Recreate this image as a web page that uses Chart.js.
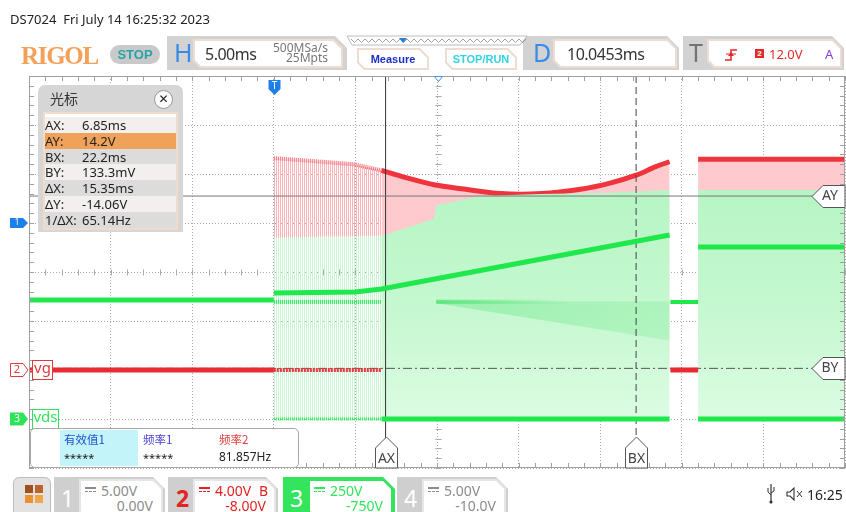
<!DOCTYPE html>
<html>
<head>
<meta charset="utf-8">
<title>DS7024</title>
<script src="https://cdn.jsdelivr.net/npm/chart.js@4.4.1/dist/chart.umd.min.js"></script>
<style>
body { margin: 0; background: #fff; }
#scr { position: relative; width: 846px; height: 512px; overflow: hidden; font-family: 'Noto Sans', 'Open Sans', sans-serif; color: #333; }
#scope { position: absolute; left: 0; top: 0; }
.a { position: absolute; white-space: pre; line-height: 1; }
.tab { position: absolute; background: #d2d2d2; clip-path: polygon(0 0, calc(100% - 12px) 0, 100% 12px, 100% 100%, 0 100%); }
.box { position: absolute; background: #ecdcd2; clip-path: polygon(0 0, calc(100% - 9px) 0, 100% 9px, 100% 100%, 7px 100%, 0 calc(100% - 7px)); }
.box::before { content: ''; position: absolute; left: 2px; top: 2px; right: 2px; bottom: 2px; background: #fff; clip-path: polygon(0 0, calc(100% - 8px) 0, 100% 8px, 100% 100%, 6px 100%, 0 calc(100% - 6px)); }
.big { font-size: 25px; color: #3a8ae8; }
.val { font-size: 16px; color: #333; letter-spacing: -0.5px; }
.btn { font-family: 'Liberation Sans', sans-serif; font-weight: bold; font-size: 11px; }
.dc { display: inline-block; width: 11px; height: 2px; border-top: 2px solid currentColor; border-bottom: 1px dashed currentColor; vertical-align: 4px; margin-right: 5px; }
.row { position: absolute; left: 0; width: 131px; height: 15.8px; }
.ct { font-size: 14px; }
</style>
</head>
<body>
<div id="scr">
<canvas id="scope" width="846" height="512"></canvas>

<!-- header -->
<div class="a" style="left:10px;top:12.5px;font-size:13px;color:#222">DS7024  Fri July 14 16:25:32 2023</div>
<div class="a" style="left:21px;top:41.5px;font:bold 25px 'Liberation Serif',serif;color:#f5a058;letter-spacing:-1.3px">RIGOL</div>
<div class="a" style="left:110px;top:45px;width:50px;height:19px;border-radius:10px;background:#c9c9c9"></div>
<div class="a btn" style="left:110px;top:47.5px;width:50px;text-align:center;font-size:13px;color:#2aa3a8">STOP</div>

<div class="tab" style="left:167px;top:36px;width:180px;height:34px">
  <div class="a big" style="left:7px;top:4px">H</div>
  <div class="box" style="left:26px;top:3px;width:150px;height:29px">
    <div class="a val" style="left:12px;top:7px">5.00ms</div>
    <div class="a" style="right:15px;top:2.5px;font-size:12px;color:#777">500MSa/s</div>
    <div class="a" style="right:15px;top:13px;font-size:12px;color:#777">25Mpts</div>
  </div>
</div>
<div class="box" style="left:357px;top:48px;width:72px;height:22px">
  <div class="a btn" style="left:0;width:72px;top:6px;text-align:center;color:#1c2fc0">Measure</div>
</div>
<div class="box" style="left:445px;top:48px;width:72px;height:22px">
  <div class="a btn" style="left:0;width:72px;top:6px;text-align:center;color:#33d3e3">STOP/RUN</div>
</div>
<div class="tab" style="left:523px;top:36px;width:156px;height:34px">
  <div class="a big" style="left:10px;top:4px">D</div>
  <div class="box" style="left:30px;top:3px;width:124px;height:29px">
    <div class="a val" style="left:14px;top:7px">10.0453ms</div>
  </div>
</div>
<div class="tab" style="left:683px;top:36px;width:161px;height:34px">
  <div class="a big" style="left:6px;top:4px;color:#737373">T</div>
  <div class="box" style="left:24px;top:3px;width:135px;height:29px">
    <div class="a" style="left:48px;top:10px;width:9px;height:9px;background:#e52a2a;color:#fff;font:bold 8px 'Liberation Sans';text-align:center;line-height:9px">2</div>
    <div class="a" style="left:62px;top:8.5px;font-size:13px;color:#e52a2a">12.0V</div>
    <div class="a" style="left:118px;top:8.5px;font-size:13px;color:#8a3fd6">A</div>
  </div>
</div>
<svg class="a" style="left:0;top:0" width="846" height="80" id="hdr"></svg>

<!-- cursor panel -->
<div class="a" style="left:38px;top:85px;width:145px;height:147px;background:#d6d6d6;border-radius:7px 7px 0 0">
  <div class="a" style="left:12px;top:6px;font-size:14px;font-family:'Noto Sans CJK SC';color:#333">光标</div>
  <div class="a" style="left:116px;top:5px;width:17px;height:17px;border:1px solid #9a9a9a;border-radius:50%;background:#fafafa;font:bold 12px 'DejaVu Sans';text-align:center;line-height:17px;color:#222">✕</div>
  <div class="a" id="rows" style="left:5px;top:27px;width:131px;height:114px;border:2px solid #f1dccb;background:#fff"></div>
</div>

<!-- measure panel -->
<div class="a" style="left:30px;top:428px;width:267px;height:38px;border:1.5px solid #a8a8a8;border-radius:5px;background:#fff">
  <div class="a" style="left:29px;top:1px;width:78px;height:36px;background:#c3f4fa"></div>
  <div class="a" style="left:33px;top:5px;font-size:11.5px;font-family:'Noto Sans CJK SC';color:#2050d0">有效值1</div>
  <div class="a" style="left:33px;top:23px;font-size:11px;color:#222">*****</div>
  <div class="a" style="left:112px;top:5px;font-size:11.5px;font-family:'Noto Sans CJK SC';color:#4b3fd3">频率1</div>
  <div class="a" style="left:112px;top:23px;font-size:11px;color:#222">*****</div>
  <div class="a" style="left:188px;top:5px;font-size:11.5px;font-family:'Noto Sans CJK SC';color:#e23a3a">频率2</div>
  <div class="a" style="left:188px;top:22px;font-size:12px;color:#222">81.857Hz</div>
</div>

<!-- bottom bar -->
<div class="a" style="left:13px;top:477px;width:36px;height:40px;background:#e2e2e2;border:1px solid #bdbdbd;border-radius:6px">
  <div class="a" style="left:11px;top:7px;width:8px;height:8px;background:#a0501e"></div>
  <div class="a" style="left:21px;top:7px;width:8px;height:8px;background:#bc6428"></div>
  <div class="a" style="left:11px;top:17px;width:8px;height:8px;background:#ef902e"></div>
  <div class="a" style="left:21px;top:17px;width:8px;height:8px;background:#f3a444"></div>
</div>
<div id="chtabs"></div>
<svg class="a" style="left:760px;top:480px" width="50" height="30" id="icons"></svg>
<div class="a" style="left:807px;top:488px;font-size:14px;color:#222">16:25</div>
</div>

<script>
'use strict';
// channel settings from the bottom bar
const chScale = [5.00, 4.00, 250, 5.00];      // V/div
const chOffset = [0.00, -8.00, -750, -10.0];  // V
const ch1MarkerDiv = 1;
// horizontal: 5.00 ms/div, trigger at 0, delay 10.0453 ms
const timeMin = -15, timeMax = 35;
const delayMs = 10.0453;
// cursors
const cursorAX = 6.85, cursorBX = 22.2;    // ms
const cursorAY = 14.2, cursorBY = 0.1333;  // V on ch2
const cursorLabels = ['AX:', 'AY:', 'BX:', 'BY:', 'ΔX:', 'ΔY:', '1/ΔX:'];
const cursorReadings = ['6.85ms', '14.2V', '22.2ms', '133.3mV', '15.35ms', '-14.06V', '65.14Hz'];

// ch2 vg : top of the switching envelope (ms / V)
const vgSparseT = [0, 2.0, 4.9, 6.6];
const vgSparseV = [17.3, 17.1, 16.8, 16.3];
const vgDenseT = [6.6, 8.1, 9.9, 11.5, 13.9, 16.4, 18.8, 20.6, 22.2, 23.4, 24.25];
const vgDenseV = [16.3, 15.7, 15.1, 14.8, 14.4, 14.4, 14.75, 15.25, 15.9, 16.6, 17.0];
const vgTailT = [26.0, 35];
const vgTailV = [17.2, 17.2];
// ch2 low level
const vgLowT = [-15, 0];
const vgLowPulseT = [0, 6.6];
const vgLowGapT = [24.3, 26.0];
const vgLowV = [0, 0];

// ch3 vds : top of the switching band
const vdsTopSparseT = [0, 6.6];
const vdsTopSparseV = [925, 935];
const vdsTopDenseT = [6.6, 9.8, 9.95, 12.7, 16.3, 20.0, 24.25];
const vdsTopDenseV = [935, 1020, 1090, 1138, 1148, 1153, 1168];
const vdsTopTailT = [26.0, 35];
const vdsTopTailV = [1168, 1168];
// ch3 bright traces
const vdsPreT = [-15, 0];
const vdsPreV = [607, 607];
const vdsRampT = [0, 5.0, 6.6, 24.25];
const vdsRampV = [643, 648, 663, 939];
const vdsGapT = [24.3, 26.0];
const vdsGapV = [597, 597];
const vdsTailT = [26.0, 35];
const vdsTailV = [877, 877];
const vdsLowerT = [0, 6.6];
const vdsLowerV = [597, 597];
const vdsBandT = [9.95, 18.0];
const vdsBandV = [598, 598];
const vdsFanT = [9.95, 24.25];
const vdsFanTopV = [600, 600];
const vdsFanLowV = [590, 400];
const vdsZeroPulseT = [0, 6.6];
const vdsZeroT = [6.6, 24.25];
const vdsZeroTailT = [26.0, 35];
const vdsZeroV = [0, 0];

const RED = '#ef343e', PINK = '#ffcacd', GREEN = '#1fe84c';

function toDiv(v, ch) { return (v + chOffset[ch - 1]) / chScale[ch - 1]; }
function pts(ts, vs, ch) { return ts.map((t, i) => ({ x: t, y: toDiv(vs[i], ch) })); }
function line(ts, vs, ch, color, width, order, extra) {
  return Object.assign({ data: pts(ts, vs, ch), borderColor: color, borderWidth: width, fill: false, order: order }, extra || {});
}

let cv = document.getElementById('scope');
function stripes(color) {
  let c = document.createElement('canvas');
  c.width = 2; c.height = 4;
  let g = c.getContext('2d');
  g.fillStyle = color; g.fillRect(0, 0, 1, 4);
  return cv.getContext('2d').createPattern(c, 'repeat');
}
function greenFill(ctx) {
  let c = ctx.chart, a = c.chartArea;
  if (!a) return '#c8f7d2';
  let g = c.ctx.createLinearGradient(0, a.top, 0, a.bottom);
  g.addColorStop(0.28, '#b6f5c4');
  g.addColorStop(0.6, '#c6f8d0');
  g.addColorStop(0.88, '#dcfce3');
  return g;
}
// fading horizontal gradient between two times
function fade(t0, t1, rgb, a0, a1) {
  return ctx => {
    let c = ctx.chart;
    if (!c.chartArea) return 'rgba(' + rgb + ',' + a0 + ')';
    let x = c.scales.x;
    let g = c.ctx.createLinearGradient(x.getPixelForValue(t0), 0, x.getPixelForValue(t1), 0);
    g.addColorStop(0, 'rgba(' + rgb + ',' + a0 + ')');
    g.addColorStop(1, 'rgba(' + rgb + ',' + a1 + ')');
    return g;
  };
}

let datasets = [
  // ch2 envelope + pink band
  line(vgSparseT, vgSparseV, 2, '#f07078', 4, 9, { borderDash: [1, 1], fill: { value: toDiv(0, 2) }, backgroundColor: stripes('#ffb3b8') }),
  line(vgDenseT, vgDenseV, 2, RED, 5, 9, { tension: 0.3, fill: { value: toDiv(0, 2) }, backgroundColor: PINK }),
  line(vgTailT, vgTailV, 2, RED, 5, 9, { fill: { value: toDiv(0, 2) }, backgroundColor: PINK }),
  // ch3 band
  line(vdsTopSparseT, vdsTopSparseV, 3, 'rgba(0,0,0,0)', 0, 8, { fill: { value: toDiv(0, 3) }, backgroundColor: stripes('#c9f5d3') }),
  line(vdsTopDenseT, vdsTopDenseV, 3, 'rgba(0,0,0,0)', 0, 8, { fill: { value: toDiv(0, 3) }, backgroundColor: greenFill }),
  line(vdsTopTailT, vdsTopTailV, 3, 'rgba(0,0,0,0)', 0, 8, { fill: { value: toDiv(0, 3) }, backgroundColor: greenFill }),
  line(vdsFanT, vdsFanTopV, 3, 'rgba(0,0,0,0)', 0, 7, { fill: '+1', backgroundColor: fade(9.95, 24.25, '90,228,125', 0.38, 0.22) }),
  line(vdsFanT, vdsFanLowV, 3, 'rgba(0,0,0,0)', 0, 7),
  // cursors
  { data: [{ x: timeMin, y: toDiv(cursorAY, 2) }, { x: timeMax, y: toDiv(cursorAY, 2) }], borderColor: '#777', borderWidth: 1, order: 6 },
  { data: [{ x: timeMin, y: toDiv(cursorBY, 2) }, { x: timeMax, y: toDiv(cursorBY, 2) }], borderColor: '#555', borderWidth: 1, borderDash: [9, 3, 2, 3], order: 6 },
  { data: [{ x: cursorAX, y: -4 }, { x: cursorAX, y: 4 }], borderColor: '#333', borderWidth: 1, order: 6 },
  { data: [{ x: cursorBX, y: -4 }, { x: cursorBX, y: 4 }], borderColor: '#444', borderWidth: 1, borderDash: [7, 4], order: 6 },
  // ch3 traces
  line(vdsPreT, vdsPreV, 3, GREEN, 5, 5),
  line(vdsRampT, vdsRampV, 3, GREEN, 5, 5),
  line(vdsGapT, vdsGapV, 3, GREEN, 4, 5),
  line(vdsTailT, vdsTailV, 3, GREEN, 5, 5),
  line(vdsLowerT, vdsLowerV, 3, GREEN, 4, 5, { borderDash: [1, 1] }),
  line(vdsBandT, vdsBandV, 3, fade(9.95, 18.0, '40,222,85', 0.6, 0), 4, 5),
  line(vdsZeroPulseT, vdsZeroV, 3, GREEN, 3, 5, { borderDash: [1, 1] }),
  line(vdsZeroT, vdsZeroV, 3, GREEN, 5, 5),
  line(vdsZeroTailT, vdsZeroV, 3, GREEN, 5, 5),
  // ch2 low level
  line(vgLowT, vgLowV, 2, '#e82a32', 5, 4),
  line(vgLowPulseT, vgLowV, 2, '#e43a40', 4, 4, { borderDash: [2, 1] }),
  line(vgLowGapT, vgLowV, 2, '#e82a32', 5, 4)
];

function poly(ctx, p, fill, stroke) {
  ctx.beginPath();
  ctx.moveTo(p[0][0], p[0][1]);
  for (let i = 1; i < p.length; i++) ctx.lineTo(p[i][0], p[i][1]);
  ctx.closePath();
  if (fill) { ctx.fillStyle = fill; ctx.fill(); }
  if (stroke) { ctx.strokeStyle = stroke; ctx.lineWidth = 1; ctx.stroke(); }
}

const scopeDecor = {
  id: 'scopeDecor',
  beforeDatasetsDraw(chart) {
    let { ctx, scales: { x, y } } = chart;
    ctx.save();
    ctx.strokeStyle = '#aaa';
    ctx.lineWidth = 1;
    let cx = Math.round(x.getPixelForValue(delayMs)) + 0.5, cy = Math.round(y.getPixelForValue(0)) + 0.5;
    ctx.beginPath();
    for (let t = timeMin; t <= timeMax; t += 1) {
      let px = Math.round(x.getPixelForValue(t)) + 0.5;
      ctx.moveTo(px, cy - 3); ctx.lineTo(px, cy + 3);
    }
    for (let d = -20; d <= 20; d++) {
      let py = Math.round(y.getPixelForValue(d / 5)) + 0.5;
      ctx.moveTo(cx - 3, py); ctx.lineTo(cx + 3, py);
    }
    ctx.stroke();
    ctx.restore();
  },
  afterDatasetsDraw(chart) {
    let { ctx, chartArea: a, scales: { x, y } } = chart;
    ctx.save();
    // frame + edge ticks
    ctx.strokeStyle = '#a0a0a0';
    ctx.lineWidth = 1;
    ctx.strokeRect(a.left + 0.5, a.top + 0.5, a.right - a.left - 1, a.bottom - a.top - 1);
    ctx.beginPath();
    for (let t = timeMin; t <= timeMax; t += 1) {
      let px = Math.round(x.getPixelForValue(t)) + 0.5;
      ctx.moveTo(px, a.top); ctx.lineTo(px, a.top + 5);
      ctx.moveTo(px, a.bottom); ctx.lineTo(px, a.bottom - 5);
    }
    for (let d = -20; d <= 20; d++) {
      let py = Math.round(y.getPixelForValue(d / 5)) + 0.5;
      ctx.moveTo(a.left, py); ctx.lineTo(a.left + 5, py);
      ctx.moveTo(a.right, py); ctx.lineTo(a.right - 5, py);
    }
    ctx.stroke();

    ctx.textAlign = 'center';
    ctx.textBaseline = 'middle';
    // trigger position and delay markers
    let tx = Math.round(x.getPixelForValue(0)) + 0.5;
    poly(ctx, [[tx - 6, 80], [tx + 6, 80], [tx + 6, 89], [tx, 95], [tx - 6, 89]], '#1f7fe6');
    ctx.fillStyle = '#fff'; ctx.font = '10px "Noto Sans"'; ctx.fillText('T', tx, 86);
    let dx = Math.round(x.getPixelForValue(delayMs)) + 0.5;
    poly(ctx, [[dx - 4, 76.5], [dx + 4, 76.5], [dx, 81.5]], '#fff', '#3d8fe8');

    // channel markers
    let y1 = y.getPixelForValue(ch1MarkerDiv);
    poly(ctx, [[10, y1 - 5], [23, y1 - 5], [28, y1], [23, y1 + 5], [10, y1 + 5]], '#1f7fe6');
    ctx.fillStyle = '#fff'; ctx.font = '8px "Noto Sans"'; ctx.fillText('1', 17, y1);
    let y2 = y.getPixelForValue(toDiv(0, 2));
    poly(ctx, [[10.5, y2 - 6.5], [23, y2 - 6.5], [28, y2], [23, y2 + 6.5], [10.5, y2 + 6.5]], '#fff', '#e23a3a');
    ctx.fillStyle = '#e23a3a'; ctx.font = '11px "Noto Sans"'; ctx.fillText('2', 17, y2);
    let y3 = y.getPixelForValue(toDiv(0, 3));
    poly(ctx, [[10, y3 - 6.5], [23, y3 - 6.5], [28, y3], [23, y3 + 6.5], [10, y3 + 6.5]], '#2ee35a');
    ctx.fillStyle = '#fff'; ctx.font = '10px "Noto Sans"'; ctx.fillText('3', 17, y3);

    // channel name labels
    ctx.fillStyle = '#fff';
    ctx.fillRect(32, y2 - 10, 21, 20);
    ctx.strokeStyle = '#e23a3a'; ctx.strokeRect(32.5, y2 - 9.5, 20, 19);
    ctx.fillStyle = '#e23a3a'; ctx.font = '15px "Noto Sans"'; ctx.fillText('vg', 42.5, y2 - 1);
    ctx.fillStyle = '#fff';
    ctx.fillRect(32, y3 - 10, 27, 20);
    ctx.strokeStyle = '#2ee35a'; ctx.strokeRect(32.5, y3 - 9.5, 26, 19);
    ctx.fillStyle = '#2ee35a'; ctx.fillText('vds', 45.5, y3 - 1);

    // cursor tags
    ctx.font = '14px "Noto Sans"';
    [[cursorAX, 'AX'], [cursorBX, 'BX']].forEach(c => {
      let px = Math.round(x.getPixelForValue(c[0])) + 0.5;
      poly(ctx, [[px, 437], [px + 11, 448], [px + 11, a.bottom], [px - 11, a.bottom], [px - 11, 448]], '#fff', '#555');
      ctx.fillStyle = '#444'; ctx.fillText(c[1], px, 459);
    });
    [[cursorAY, 'AY'], [cursorBY, 'BY']].forEach(c => {
      let py = Math.round(y.getPixelForValue(toDiv(c[0], 2))) + 0.5;
      poly(ctx, [[a.right - 33, py], [a.right - 22, py - 11], [a.right, py - 11], [a.right, py + 11], [a.right - 22, py + 11]], '#fff', '#555');
      ctx.fillStyle = '#444'; ctx.fillText(c[1], a.right - 15, py);
    });
    ctx.restore();
  }
};

new Chart(cv, {
  type: 'line',
  data: { datasets: datasets },
  options: {
    responsive: false,
    animation: false,
    events: [],
    layout: { padding: { left: 29, right: 1, top: 76, bottom: 44 } },
    elements: { point: { radius: 0 }, line: { tension: 0 } },
    plugins: { legend: { display: false }, tooltip: { enabled: false } },
    scales: {
      x: {
        type: 'linear', min: timeMin, max: timeMax,
        afterFit: s => { s.height = 0; },
        ticks: { display: false, stepSize: 5 },
        grid: { color: '#a9a9a9', drawTicks: false },
        border: { display: false, dash: [1, 2] }
      },
      y: {
        type: 'linear', min: -4, max: 4,
        afterFit: s => { s.width = 0; },
        ticks: { display: false, stepSize: 1 },
        grid: { color: '#a9a9a9', drawTicks: false },
        border: { display: false, dash: [1, 2] }
      }
    }
  },
  plugins: [scopeDecor]
});

// cursor readout rows
let rowsEl = document.getElementById('rows');
let rowBg = ['#f3efef', '#f0a25a', '#dcdcdc', '#f3efef', '#dcdcdc', '#f3efef', '#dcdcdc'];
cursorLabels.forEach((lab, i) => {
  let r = document.createElement('div');
  r.className = 'row';
  r.style.top = (3 + i * 15.8) + 'px';
  r.style.background = rowBg[i];
  r.innerHTML = '<div class="a" style="left:0;top:2px;font-size:13px;color:#222">' + lab + '</div>' +
    '<div class="a" style="left:37px;top:2px;font-size:13px;color:#222">' + cursorReadings[i] + '</div>';
  rowsEl.appendChild(r);
});

// channel tabs
let tabs = [
  { n: '1', l: 54, w: 111, side: '#cfcfcf', num: '#fff', txt: '#8c8c8c', s: '5.00V', o: '0.00V', b: '' },
  { n: '2', l: 168, w: 110, side: '#cfcfcf', num: '#e52222', txt: '#e52222', s: '4.00V', o: '-8.00V', b: 'B' },
  { n: '3', l: 283, w: 112, side: '#33e45c', num: '#fff', txt: '#33e45c', s: '250V', o: '-750V', b: '' },
  { n: '4', l: 397, w: 111, side: '#cfcfcf', num: '#fff', txt: '#8c8c8c', s: '5.00V', o: '-10.0V', b: '' }
];
let tabHtml = '';
tabs.forEach(t => {
  tabHtml += '<div class="tab" style="left:' + t.l + 'px;top:477px;width:' + t.w + 'px;height:40px;background:' + t.side + '">' +
    '<div class="a" style="left:' + (t.n === '2' ? 8 : 7) + 'px;top:10px;font-size:23px;' + (t.n === '2' ? 'font-weight:bold;' : '') + 'color:' + t.num + '">' + t.n + '</div>' +
    '<div class="box" style="left:25px;top:2px;width:' + (t.w - 27) + 'px;height:40px;background:' + (t.n === '3' ? '#33e45c' : '#e6e6e6') + '">' +
    '<div class="a ct" style="left:6px;top:5px;color:' + t.txt + '"><span class="dc"></span>' + t.s + '</div>' +
    (t.b ? '<div class="a ct" style="right:8px;top:5px;color:' + t.txt + '">' + t.b + '</div>' : '') +
    '<div class="a ct" style="right:10px;top:19.5px;color:' + t.txt + '">' + t.o + '</div>' +
    '</div></div>';
});
document.getElementById('chtabs').innerHTML = tabHtml;

// header shapes: memory bar and trigger edge icon
let zz = [];
for (let i = 0; i <= 50; i++) zz.push((351 + i * 3.5).toFixed(1) + ',' + (i % 2 ? 42.5 : 39));
document.getElementById('hdr').innerHTML =
  '<polygon points="347,36 527,36 520,45 352,45" fill="#fff" stroke="#bbb" stroke-width="1"/>' +
  '<polyline points="' + zz.join(' ') + '" fill="none" stroke="#888" stroke-width="0.8"/>' +
  '<polygon points="399,38 407,38 403,43" fill="#2a7de0"/>' +
  '<polyline points="725,60 731,60 731,50 737,50" fill="none" stroke="#e52a2a" stroke-width="1.6"/>' +
  '<polygon points="728,56 734,56 731,52" fill="#e52a2a"/>' +
  '<line x1="726" y1="54" x2="736" y2="54" stroke="#e52a2a" stroke-width="1"/>';
document.getElementById('icons').innerHTML =
  '<line x1="11" y1="4" x2="11" y2="22" stroke="#333" stroke-width="1.2"/>' +
  '<polyline points="8,8 8,12 11,15" fill="none" stroke="#333" stroke-width="1"/>' +
  '<polyline points="14,7 14,11 11,13" fill="none" stroke="#333" stroke-width="1"/>' +
  '<circle cx="11" cy="22" r="1.6" fill="#333"/>' +
  '<polygon points="27,12 30,12 34,8 34,20 30,16 27,16" fill="none" stroke="#333" stroke-width="1.1"/>' +
  '<line x1="37" y1="11" x2="42" y2="17" stroke="#333" stroke-width="1"/>' +
  '<line x1="42" y1="11" x2="37" y2="17" stroke="#333" stroke-width="1"/>';
</script>
</body>
</html>
